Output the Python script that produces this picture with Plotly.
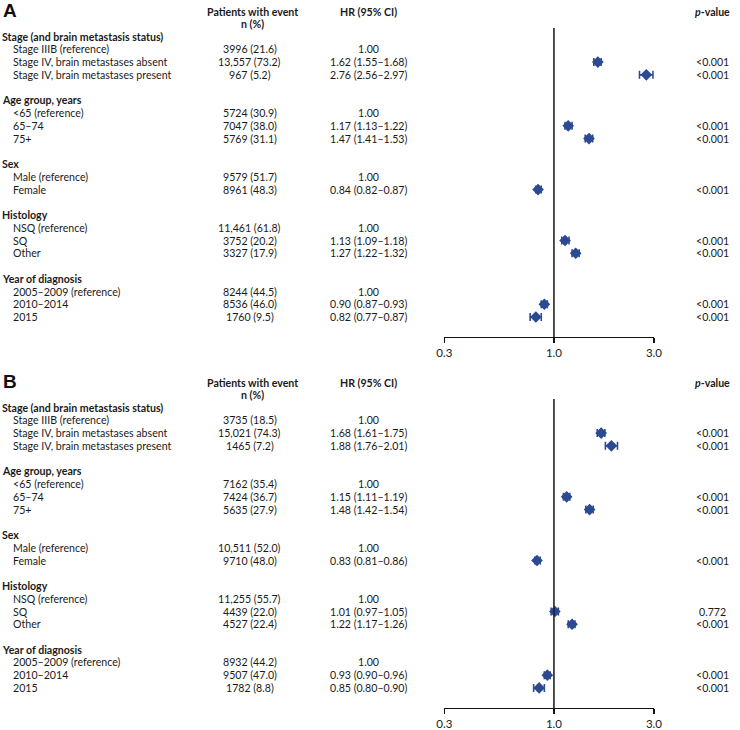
import math
import plotly.graph_objects as go

# ---------------- data ----------------
group_titles = ["Stage (and brain metastasis status)", "Age group, years", "Sex",
                "Histology", "Year of diagnosis"]
group_items = [
    ["Stage IIIB (reference)", "Stage IV, brain metastases absent", "Stage IV, brain metastases present"],
    ["<65 (reference)", "65–74", "75+"],
    ["Male (reference)", "Female"],
    ["NSQ (reference)", "SQ", "Other"],
    ["2005–2009 (reference)", "2010–2014", "2015"],
]

n_A = ["3996 (21.6)", "13,557 (73.2)", "967 (5.2)",
       "5724 (30.9)", "7047 (38.0)", "5769 (31.1)",
       "9579 (51.7)", "8961 (48.3)",
       "11,461 (61.8)", "3752 (20.2)", "3327 (17.9)",
       "8244 (44.5)", "8536 (46.0)", "1760 (9.5)"]
hr_A = [1.00, 1.62, 2.76, 1.00, 1.17, 1.47, 1.00, 0.84, 1.00, 1.13, 1.27, 1.00, 0.90, 0.82]
lo_A = [None, 1.55, 2.56, None, 1.13, 1.41, None, 0.82, None, 1.09, 1.22, None, 0.87, 0.77]
hi_A = [None, 1.68, 2.97, None, 1.22, 1.53, None, 0.87, None, 1.18, 1.32, None, 0.93, 0.87]
p_A = ["", "<0.001", "<0.001", "", "<0.001", "<0.001", "", "<0.001",
       "", "<0.001", "<0.001", "", "<0.001", "<0.001"]

n_B = ["3735 (18.5)", "15,021 (74.3)", "1465 (7.2)",
       "7162 (35.4)", "7424 (36.7)", "5635 (27.9)",
       "10,511 (52.0)", "9710 (48.0)",
       "11,255 (55.7)", "4439 (22.0)", "4527 (22.4)",
       "8932 (44.2)", "9507 (47.0)", "1782 (8.8)"]
hr_B = [1.00, 1.68, 1.88, 1.00, 1.15, 1.48, 1.00, 0.83, 1.00, 1.01, 1.22, 1.00, 0.93, 0.85]
lo_B = [None, 1.61, 1.76, None, 1.11, 1.42, None, 0.81, None, 0.97, 1.17, None, 0.90, 0.80]
hi_B = [None, 1.75, 2.01, None, 1.19, 1.54, None, 0.86, None, 1.05, 1.26, None, 0.96, 0.90]
p_B = ["", "<0.001", "<0.001", "", "<0.001", "<0.001", "", "<0.001",
       "", "0.772", "<0.001", "", "<0.001", "<0.001"]

tick_vals = [0.3, 1.0, 3.0]
tick_text = ["0.3", "1.0", "3.0"]
panel_letters = ["A", "B"]

# ---------------- layout helpers ----------------
W, H = 740, 730
FONT = "Lato"
TXT = "#1a1a1a"
BLUE = "#2b4a92"
FS = 10.6
LEFT_FIX = -8  # left-anchored labels come out ~8 px to the right

head_slots, item_slots = [], []
s = 0
for items in group_items:
    head_slots.append(s)
    s += 1
    for _ in items:
        item_slots.append(s)
        s += 1
    s += 1  # blank row between groups

slot_px = 12.78
first_px = 36.7
top_line_px = 28.0
axis_px = 338.0
shift = 372.0

x_left = 446.0           # pixel of 0.3
x_one = 558.0            # pixel of 1.0
decade = (x_one - x_left) / math.log10(1 / 0.3)
x_right = x_left + decade * (math.log10(3.0) - math.log10(0.3))


def pa(px):
    return 1 - px / H


def fnt(size=FS, color=TXT, weight=None):
    d = dict(family=FONT, size=size, color=color)
    if weight:
        d["weight"] = weight
    return d


fig = go.Figure()
annotations = []
shapes = []
flat_items = [it for items in group_items for it in items]


def ann(text, x, y, yref, anchor, font):
    d = dict(text=text, xref="paper", yref=yref, x=x / W, y=y,
             xanchor=anchor, yanchor="middle", showarrow=False,
             borderpad=0, font=font)
    if anchor == "left":
        d["xshift"] = LEFT_FIX
        d["align"] = "left"
    annotations.append(d)


panels = [(n_A, hr_A, lo_A, hi_A, p_A), (n_B, hr_B, lo_B, hi_B, p_B)]
for k, (n_, hr_, lo_, hi_, p_) in enumerate(panels):
    off = shift * k
    ya = "y" if k == 0 else "y2"
    xa = "x" if k == 0 else "x2"
    top = top_line_px + off
    bot = axis_px + off
    y_top_slot = (top_line_px - first_px) / slot_px
    y_bot_slot = (axis_px - first_px) / slot_px

    fig.update_layout(**{
        ("xaxis" if k == 0 else "xaxis2"): dict(
            type="log", domain=[x_left / W, x_right / W],
            range=[math.log10(0.3), math.log10(3.0)], anchor=ya,
            tickvals=tick_vals, ticktext=tick_text,
            showline=True, linecolor="#111", linewidth=1.3,
            ticks="outside", ticklen=5, tickcolor="#111", tickwidth=1.3,
            showgrid=False, zeroline=False, tickfont=fnt(11.5)),
        ("yaxis" if k == 0 else "yaxis2"): dict(
            domain=[1 - bot / H, 1 - top / H], range=[y_bot_slot, y_top_slot],
            anchor=xa, visible=False, showgrid=False, zeroline=False),
    })

    shapes.append(dict(type="line", xref=xa, yref=ya + " domain", x0=1, x1=1, y0=0, y1=1,
                       line=dict(color="#222", width=1.6)))

    xs, ys, ep, em = [], [], [], []
    for i, h in enumerate(hr_):
        if lo_[i] is None:
            continue
        xs.append(h)
        ys.append(item_slots[i])
        ep.append(hi_[i] - h)
        em.append(h - lo_[i])
    fig.add_trace(go.Scatter(x=xs, y=ys, mode="markers", xaxis=xa, yaxis=ya,
                             marker=dict(symbol="diamond", size=9, color=BLUE),
                             error_x=dict(type="data", array=ep, arrayminus=em,
                                          color=BLUE, thickness=1.6, width=4),
                             showlegend=False, hoverinfo="skip"))

    ann("<b>" + panel_letters[k] + "</b>", 2, pa(11 + off), "paper", "left",
        dict(family="Liberation Sans", size=19, color="#111"))
    ann("Patients with event", 250, pa(11.7 + off), "paper", "center", fnt(weight=700))
    ann("n (%)", 250, pa(24.3 + off), "paper", "center", fnt(weight=700))
    ann("HR (95% CI)", 368, pa(11.7 + off), "paper", "center", fnt(weight=700))
    ann("<i>p</i>-value", 720, pa(11.7 + off), "paper", "center", fnt(weight=700))

    for g, title in enumerate(group_titles):
        ann(title, 1, head_slots[g], ya, "left", fnt(weight=700))
    for i, label in enumerate(flat_items):
        yv = item_slots[i]
        ann(label, 12, yv, ya, "left", fnt())
        ann(n_[i], 247, yv, ya, "center", fnt())
        if lo_[i] is None:
            hr_txt = f"{hr_[i]:.2f}"
        else:
            hr_txt = f"{hr_[i]:.2f} ({lo_[i]:.2f}–{hi_[i]:.2f})"
        ann(hr_txt, 368, yv, ya, "center", fnt())
        if p_[i]:
            ann(p_[i], 720, yv, ya, "center", fnt())

fig.update_layout(width=W, height=H, margin=dict(l=0, r=0, t=0, b=0, pad=0),
                  paper_bgcolor="white", plot_bgcolor="white",
                  annotations=annotations, shapes=shapes, showlegend=False,
                  font=fnt())

fig.write_html("out.html", config={"displayModeBar": False, "staticPlot": True},
               post_script="document.body.style.margin='0';document.body.style.overflow='hidden';")
